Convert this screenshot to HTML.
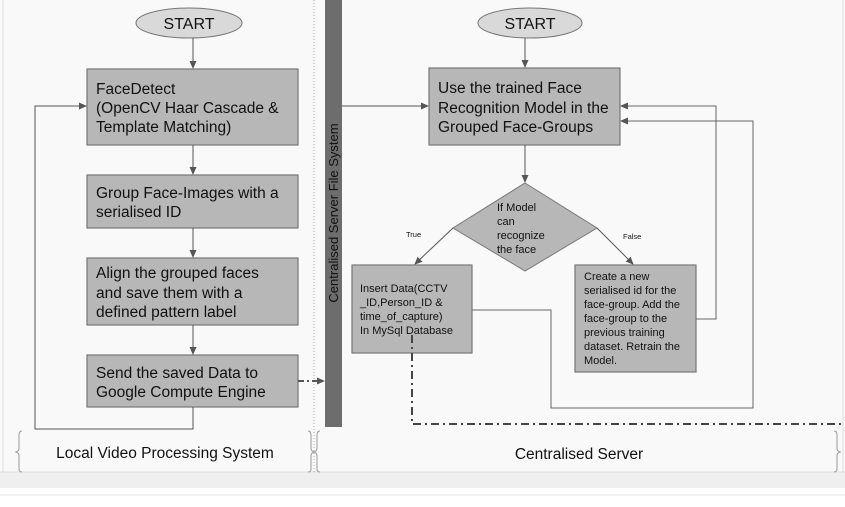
<!DOCTYPE html>
<html><head><meta charset="utf-8"><style>
html,body{margin:0;padding:0;width:845px;height:507px;overflow:hidden;background:#fff}
svg{display:block;font-family:"Liberation Sans",Arial,sans-serif}
</style></head><body>
<svg width="845" height="507" viewBox="0 0 845 507" xmlns="http://www.w3.org/2000/svg">
<defs>
<marker id="a" markerWidth="8" markerHeight="8" refX="7" refY="4" orient="auto" markerUnits="userSpaceOnUse"><path d="M0,0.5 L8,4 L0,7.5 z" fill="#555"/></marker>
</defs>
<rect x="0" y="0" width="845" height="472" fill="#f9f9f9"/>
<line x1="3" y1="0" x2="3" y2="472" stroke="#ddd"/>
<rect x="0" y="472" width="845" height="16" fill="#efefef"/>
<line x1="0" y1="472" x2="845" y2="472" stroke="#ddd"/>
<line x1="0" y1="495" x2="845" y2="495" stroke="#e6e6e6"/>
<line x1="314" y1="0" x2="314" y2="472" stroke="#aaa" stroke-dasharray="1,2"/>
<line x1="843" y1="0" x2="843" y2="472" stroke="#ddd"/>

<!-- left -->
<ellipse cx="189" cy="23" rx="53" ry="15" fill="#d9d9d9" stroke="#777"/>
<text x="189" y="29" text-anchor="middle" font-size="16" fill="#111">START</text>
<line x1="193" y1="38" x2="193" y2="68" stroke="#555" marker-end="url(#a)"/>
<g fill="#b7b7b7" stroke="#777" stroke-width="1.2">
<rect x="87" y="69" width="211" height="76"/>
<rect x="87" y="175" width="211" height="53"/>
<rect x="87" y="258" width="211" height="67"/>
<rect x="87" y="355" width="211" height="52"/>
</g>
<g font-size="15.5" fill="#111">
<text x="96" y="94">FaceDetect</text><text x="96" y="113">(OpenCV Haar Cascade &amp;</text><text x="96" y="132">Template Matching)</text>
<text x="96" y="198">Group Face-Images with a</text><text x="96" y="217">serialised ID</text>
<text x="96" y="278">Align the grouped faces</text><text x="96" y="298">and save them with a</text><text x="96" y="317">defined pattern label</text>
<text x="96" y="378">Send the saved Data to</text><text x="96" y="397">Google Compute Engine</text>
</g>
<g stroke="#555" fill="none">
<line x1="193" y1="145" x2="193" y2="174" marker-end="url(#a)"/>
<line x1="193" y1="228" x2="193" y2="257" marker-end="url(#a)"/>
<line x1="193" y1="325" x2="193" y2="354" marker-end="url(#a)"/>
<polyline points="193,407 193,429 35,429 35,106 86,106" marker-end="url(#a)"/>
</g>
<line x1="298" y1="381" x2="324" y2="381" stroke="#555" stroke-width="2" stroke-dasharray="6,3,2,3" marker-end="url(#a)"/>

<!-- bar -->
<rect x="325" y="0" width="17" height="427" fill="#6d6d6d"/>
<text transform="translate(338,213) rotate(-90)" text-anchor="middle" font-size="13" fill="#111">Centralised Server File System</text>

<!-- braces -->
<g fill="none" stroke="#999">
<path d="M22,431 q-3,0 -3,4 v13 q0,3 -3,4 q3,1 3,4 v13 q0,3 3,3"/>
<path d="M308,431 q3,0 3,4 v13 q0,3 3,4 q-3,1 -3,4 v13 q0,3 -3,3"/>
<path d="M320,431 q-3,0 -3,4 v13 q0,3 -3,4 q3,1 3,4 v13 q0,3 3,3"/>
<path d="M834,431 q3,0 3,4 v13 q0,3 3,4 q-3,1 -3,4 v13 q0,3 -3,3"/>
</g>
<text x="165" y="458" text-anchor="middle" font-size="15.5" fill="#111">Local Video Processing System</text>
<text x="579" y="459" text-anchor="middle" font-size="15.5" fill="#111">Centralised Server</text>

<!-- right -->
<ellipse cx="530" cy="23" rx="52" ry="15" fill="#d9d9d9" stroke="#777"/>
<text x="530" y="29" text-anchor="middle" font-size="16" fill="#111">START</text>
<line x1="525" y1="38" x2="525" y2="67" stroke="#555" marker-end="url(#a)"/>
<rect x="429" y="68" width="191" height="77" fill="#b7b7b7" stroke="#777" stroke-width="1.2"/>
<g font-size="15.5" fill="#111"><text x="438" y="93">Use the trained Face</text><text x="438" y="113">Recognition Model in the</text><text x="438" y="132">Grouped Face-Groups</text></g>
<line x1="342" y1="106" x2="428" y2="106" stroke="#555" marker-end="url(#a)"/>
<line x1="525" y1="145" x2="525" y2="182" stroke="#555" marker-end="url(#a)"/>
<polygon points="525,183 597,228 525,271 453,228" fill="#b7b7b7" stroke="#777"/>
<g font-size="11" fill="#111"><text x="497" y="211">If Model</text><text x="497" y="225">can</text><text x="497" y="239">recognize</text><text x="497" y="253">the face</text></g>
<text x="406" y="237" font-size="7.5" fill="#111">True</text>
<text x="623" y="239" font-size="7.5" fill="#111">False</text>
<line x1="453" y1="228" x2="415" y2="264" stroke="#555" marker-end="url(#a)"/>
<line x1="597" y1="228" x2="633" y2="264" stroke="#555" marker-end="url(#a)"/>
<rect x="352" y="265" width="120" height="88" fill="#b7b7b7" stroke="#777" stroke-width="1.2"/>
<g font-size="11" fill="#111"><text x="360" y="292">Insert Data(CCTV</text><text x="360" y="306">_ID,Person_ID  &amp;</text><text x="360" y="320">time_of_capture)</text><text x="360" y="334">In MySql Database</text></g>
<rect x="575" y="265" width="121" height="107" fill="#b7b7b7" stroke="#777" stroke-width="1.2"/>
<g font-size="11" fill="#111"><text x="584" y="280">Create a new</text><text x="584" y="294">serialised id for the</text><text x="584" y="308">face-group. Add the</text><text x="584" y="322">face-group  to the</text><text x="584" y="336">previous  training</text><text x="584" y="350">dataset. Retrain the</text><text x="584" y="364">Model.</text></g>
<g stroke="#666" fill="none">
<polyline points="696,319 716,319 716,106 621,106" marker-end="url(#a)"/>
<polyline points="472,310 551,310 551,408 753,408 753,121 621,121" marker-end="url(#a)"/>
</g>
<polyline points="412,335 412,424 845,424" fill="none" stroke="#444" stroke-width="2" stroke-dasharray="8,4,2,4"/>
</svg>
</body></html>
